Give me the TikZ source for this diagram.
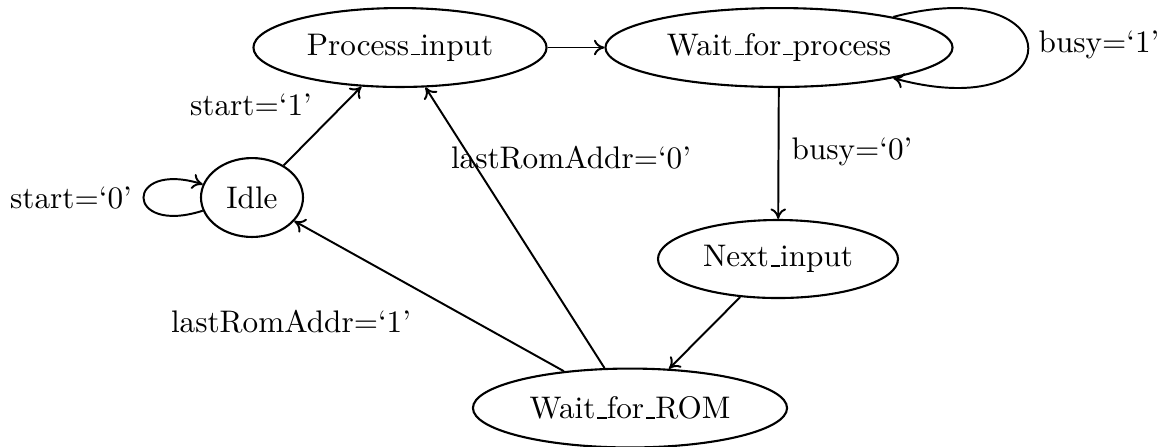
\documentclass[tikz,border=0pt]{standalone}
\usetikzlibrary{shapes.geometric,arrows.meta}
% short rule underscore, as in the classic \_ of OT1
\newcommand\usc{\leavevmode\kern0.06em\vbox{\hrule width0.3em}}
\begin{document}
\begin{tikzpicture}[x=0.3333pt,y=-0.3333pt,
  font=\fontsize{10.4pt}{12.5pt}\selectfont,
  >={To[length=3.5pt,width=5.2pt]},
  state/.style={draw,ellipse,line width=0.7pt,inner sep=0pt,minimum height=26.3pt},
  trans/.style={->,line width=0.65pt},
  lbl/.style={inner sep=0pt}]
\useasboundingbox (0,0) rectangle (1169,446);

% states
\node[state,minimum width=97.7pt]  (proc) at (400,47.5)  {Process\usc input};
\node[state,minimum width=115.7pt] (waitp) at (779,47.5) {Wait\usc for\usc process};
\node[state,minimum width=34pt]    (idle) at (252,197.5) {Idle};
\node[state,minimum width=80pt,minimum height=26pt] (next) at (778,259) {Next\usc input};
\node[state,minimum width=104.7pt] (waitr) at (630,408)  {Wait\usc for\usc ROM};

% transitions
\draw[trans] (idle) -- (proc);
\draw[trans] (proc) -- (waitp);
\draw[trans] (waitp) -- (next);
\draw[trans] (next) -- (waitr);
\draw[trans] (waitr) -- (idle);
\draw[trans] (waitr) -- (proc);

% self loops
\draw[trans] (waitp.15) .. controls (1073,-30) and (1073,127) .. (waitp.-15);
\draw[trans] (idle.195) .. controls (124,236) and (124,160) .. (idle.165);

% guards
\node[lbl] (l1) at (251,105) {start=`1'};
\node[lbl] (l2) at (71,198) {start=`0'};
\node[lbl] (l3) at (571,158) {lastRomAddr=`0'};
\node[lbl] (l4) at (852,152) {busy=`0'};
\node[lbl] (l5) at (1099,45) {busy=`1'};
\node[lbl] (l6) at (291,322) {lastRomAddr=`1'};
\end{tikzpicture}
\end{document}
